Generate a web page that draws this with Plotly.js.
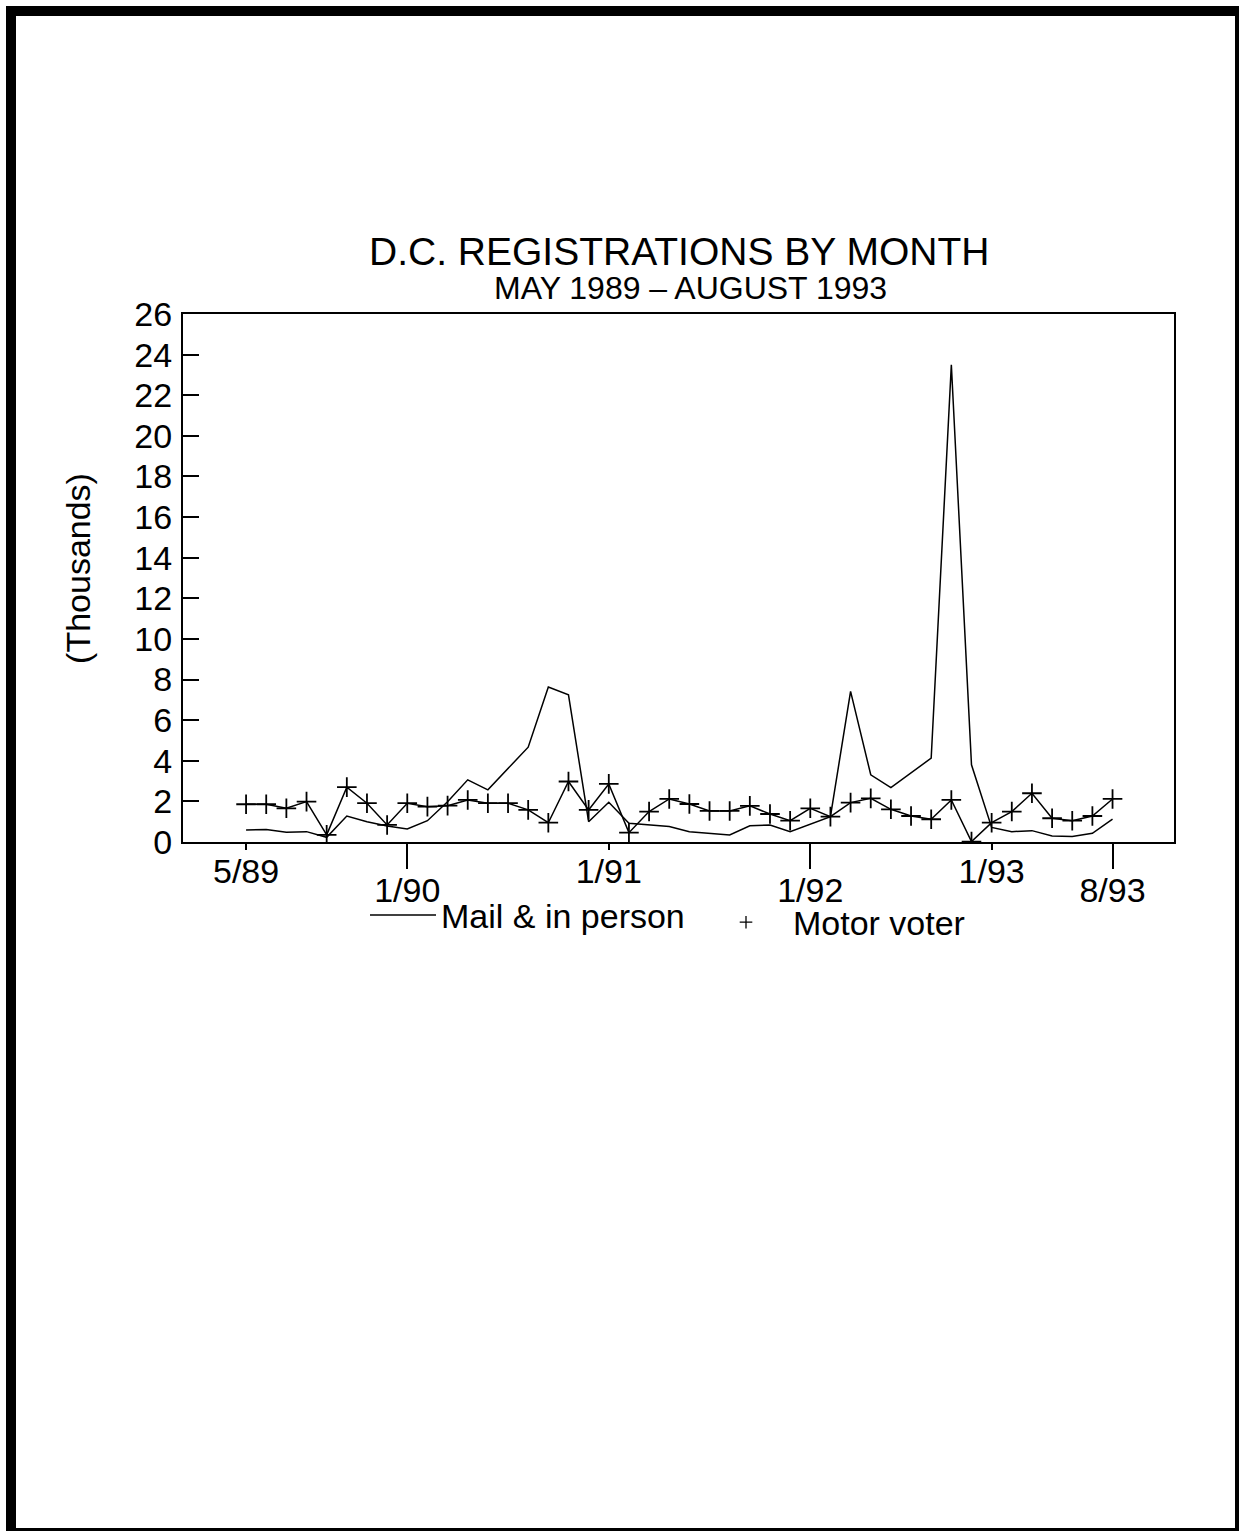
<!DOCTYPE html>
<html><head><meta charset="utf-8">
<script src="https://cdn.plot.ly/plotly-3.0.1.min.js"></script>
<style>
html,body{margin:0;padding:0;background:#fff;}
#chart{position:absolute;left:0;top:0;width:1239px;height:1533px;}
#frame{position:absolute;left:6px;top:6px;width:1233px;height:1525px;box-sizing:border-box;border-left:10px solid #000;border-top:10px solid #000;border-right:4px solid #000;border-bottom:3px solid #000;pointer-events:none;}
</style></head>
<body><div id="chart"></div><div id="frame"></div>
<script>
// Values in thousands, one per plotted point (May 1989 - Aug 1993)
const mailInPerson = [0.59,0.62,0.48,0.51,0.23,1.28,1.00,0.79,0.64,1.05,1.98,3.06,2.57,3.63,4.67,7.63,7.25,
  1.00,1.96,0.92,0.84,0.76,0.51,0.43,0.35,0.80,0.84,0.51,0.87,1.25,7.42,3.31,2.68,3.39,4.13,23.5,3.80,
  0.72,0.51,0.56,0.30,0.27,0.43,1.13];
const motorVoter = [1.86,1.86,1.66,1.99,0.35,2.70,1.91,0.84,1.91,1.74,1.79,2.07,1.91,1.91,1.58,0.95,2.98,1.58,
  2.86,0.46,1.50,2.12,1.87,1.53,1.53,1.78,1.38,1.05,1.66,1.25,1.94,2.15,1.61,1.28,1.12,2.07,0.02,
  0.95,1.50,2.40,1.17,1.05,1.28,2.12];
const pointIndex = mailInPerson.map((_, i) => i);
const tickIdxHigh = [0, 18, 37];
const tickTextHigh = ['5/89', '1/91', '1/93'];
const tickIdxLow = [8, 28, 43];
const tickTextLow = ['1/90', '1/92', '8/93'];
const yTicks = [0,2,4,6,8,10,12,14,16,18,20,22,24,26];
const seriesNames = ['Mail & in person', 'Motor voter'];

const FONT = '"Liberation Sans", Arial, Helvetica, sans-serif';
const xr = [-3.13, 46.05];

const traces = [
  {x: pointIndex, y: mailInPerson, type: 'scatter', mode: 'lines', name: seriesNames[0],
   line: {color: '#000', width: 1.5}, showlegend: true, legend: 'legend'},
  {x: pointIndex, y: motorVoter, type: 'scatter', mode: 'lines+markers', name: seriesNames[1],
   line: {color: '#000', width: 1.5},
   marker: {symbol: 'cross-thin-open', size: 14, color: '#000', line: {color: '#000', width: 1.8}},
   showlegend: false},
  {x: [null], y: [null], xaxis: 'x2', type: 'scatter', mode: 'markers', name: seriesNames[1],
   marker: {symbol: 'cross-thin-open', size: 9, color: '#000', line: {color: '#000', width: 1.3}},
   showlegend: true, legend: 'legend2'}
];

const layout = {
  width: 1239, height: 1533, autosize: false,
  margin: {l: 183, r: 65, t: 314, b: 691, pad: 0},
  paper_bgcolor: '#fff', plot_bgcolor: '#fff',
  font: {family: FONT, color: '#000', size: 34},
  showlegend: true,
  xaxis: {range: xr, tickmode: 'array', tickvals: tickIdxHigh, ticktext: tickTextHigh,
    ticks: 'outside', ticklen: 6, tickwidth: 2, tickcolor: '#000',
    showline: true, linewidth: 2, linecolor: '#000', mirror: true,
    showgrid: false, zeroline: false, tickfont: {size: 34}, ticklabelstandoff: -8},
  xaxis2: {range: xr, overlaying: 'x', anchor: 'y', side: 'bottom', tickmode: 'array',
    tickvals: tickIdxLow, ticktext: tickTextLow,
    ticks: 'outside', ticklen: 26, tickwidth: 2, tickcolor: '#000',
    showline: false, showgrid: false, zeroline: false, tickfont: {size: 34}, ticklabelstandoff: -8},
  yaxis: {range: [0, 26], tickmode: 'array', tickvals: yTicks,
    ticks: 'inside', ticklen: 16, tickwidth: 2, tickcolor: '#000',
    showline: true, linewidth: 2, linecolor: '#000', mirror: true,
    showgrid: false, zeroline: false, tickfont: {size: 34}, ticklabelstandoff: 2},
  legend: {orientation: 'h', x: (365 - 183) / 991, y: -0.084, xanchor: 'left', yanchor: 'top',
    font: {size: 34}, bgcolor: 'rgba(0,0,0,0)', itemwidth: 66},
  legend2: {orientation: 'h', x: (699 - 183) / 991, y: -0.0977, xanchor: 'left', yanchor: 'top',
    font: {size: 34}, bgcolor: 'rgba(0,0,0,0)', itemwidth: 84},
  annotations: [
    {text: 'D.C. REGISTRATIONS BY MONTH', xref: 'paper', yref: 'paper', x: 0.5, y: 1.119,
     xanchor: 'center', yanchor: 'middle', showarrow: false, font: {size: 39}},
    {text: 'MAY 1989 \u2013 AUGUST 1993', xref: 'paper', yref: 'paper', x: 0.5126, y: 1.049,
     xanchor: 'center', yanchor: 'middle', showarrow: false, font: {size: 32}},
    {text: '(Thousands)', xref: 'paper', yref: 'paper', x: -0.106, y: 0.519, textangle: -90,
     xanchor: 'center', yanchor: 'middle', showarrow: false, font: {size: 34}}
  ]
};

Plotly.newPlot('chart', traces, layout, {staticPlot: true, displayModeBar: false});
</script>
</body></html>
